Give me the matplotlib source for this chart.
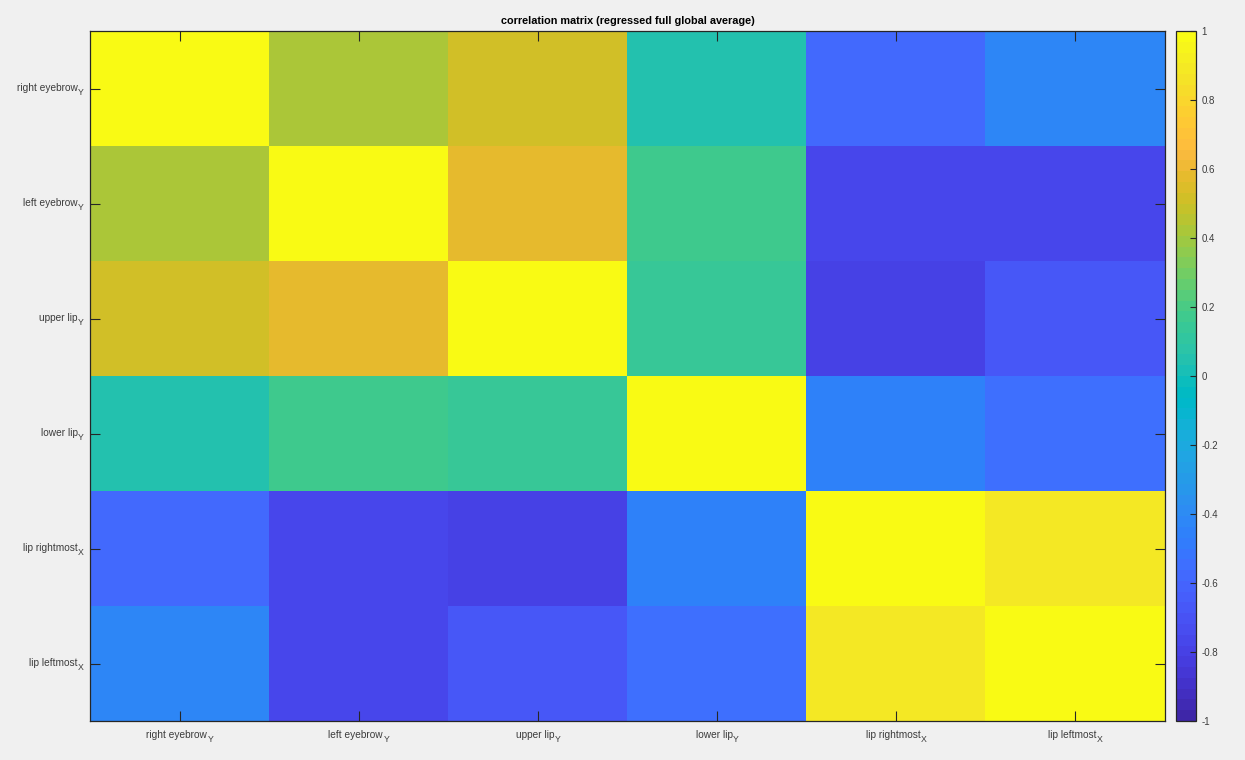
#!/usr/bin/env python3
import numpy as np
import matplotlib
matplotlib.use("Agg")
import matplotlib.pyplot as plt
from matplotlib.colors import ListedColormap


LABELS = ["right eyebrow", "left eyebrow", "upper lip", "lower lip",
          "lip rightmost", "lip leftmost"]
SUBSCRIPTS = ["Y", "Y", "Y", "Y", "X", "X"]

# correlation values
ROW_RIGHT_EYEBROW = [1.00, 0.42, 0.50, 0.05, -0.57, -0.43]
ROW_LEFT_EYEBROW = [0.42, 1.00, 0.57, 0.16, -0.78, -0.78]
ROW_UPPER_LIP = [0.50, 0.57, 1.00, 0.13, -0.80, -0.68]
ROW_LOWER_LIP = [0.05, 0.16, 0.13, 1.00, -0.45, -0.56]
ROW_LIP_RIGHTMOST = [-0.57, -0.78, -0.80, -0.45, 1.00, 0.90]
ROW_LIP_LEFTMOST = [-0.43, -0.78, -0.68, -0.56, 0.90, 1.00]

CBAR_TICKS = [-1, -0.8, -0.6, -0.4, -0.2, 0, 0.2, 0.4, 0.6, 0.8, 1]

# MATLAB parula(64)
PARULA = [
    [0.2422, 0.1504, 0.6603], [0.2504, 0.1650, 0.7076], [0.2578, 0.1818, 0.7511],
    [0.2647, 0.1978, 0.7952], [0.2706, 0.2147, 0.8364], [0.2751, 0.2342, 0.8710],
    [0.2783, 0.2559, 0.8991], [0.2803, 0.2782, 0.9221], [0.2813, 0.3006, 0.9414],
    [0.2810, 0.3228, 0.9579], [0.2795, 0.3447, 0.9717], [0.2760, 0.3667, 0.9829],
    [0.2699, 0.3892, 0.9906], [0.2602, 0.4123, 0.9952], [0.2440, 0.4358, 0.9988],
    [0.2206, 0.4603, 0.9973], [0.1963, 0.4847, 0.9892], [0.1834, 0.5074, 0.9798],
    [0.1786, 0.5289, 0.9682], [0.1764, 0.5499, 0.9520], [0.1687, 0.5703, 0.9359],
    [0.1540, 0.5902, 0.9218], [0.1460, 0.6091, 0.9079], [0.1380, 0.6276, 0.8973],
    [0.1248, 0.6459, 0.8883], [0.1113, 0.6635, 0.8763], [0.0952, 0.6798, 0.8598],
    [0.0689, 0.6948, 0.8394], [0.0297, 0.7082, 0.8163], [0.0036, 0.7203, 0.7917],
    [0.0067, 0.7312, 0.7660], [0.0433, 0.7411, 0.7394], [0.0964, 0.7500, 0.7120],
    [0.1408, 0.7584, 0.6842], [0.1717, 0.7670, 0.6554], [0.1938, 0.7758, 0.6251],
    [0.2161, 0.7843, 0.5923], [0.2470, 0.7918, 0.5567], [0.2906, 0.7973, 0.5188],
    [0.3406, 0.8008, 0.4789], [0.3909, 0.8029, 0.4354], [0.4456, 0.8024, 0.3909],
    [0.5044, 0.7993, 0.3480], [0.5616, 0.7942, 0.3045], [0.6174, 0.7876, 0.2612],
    [0.6720, 0.7793, 0.2227], [0.7242, 0.7698, 0.1910], [0.7738, 0.7598, 0.1646],
    [0.8203, 0.7498, 0.1535], [0.8634, 0.7406, 0.1596], [0.9035, 0.7330, 0.1774],
    [0.9393, 0.7288, 0.2100], [0.9728, 0.7298, 0.2394], [0.9956, 0.7434, 0.2371],
    [0.9970, 0.7659, 0.2199], [0.9952, 0.7893, 0.2028], [0.9892, 0.8136, 0.1885],
    [0.9786, 0.8386, 0.1766], [0.9676, 0.8639, 0.1643], [0.9610, 0.8890, 0.1537],
    [0.9597, 0.9135, 0.1423], [0.9628, 0.9373, 0.1265], [0.9691, 0.9606, 0.1064],
    [0.9769, 0.9839, 0.0805],
]

BG = "#f0f0f0"
INK = "#262626"
TEXT = "#3c3c3c"
LABEL_SIZE = 7.3
SUB_SIZE = 6.3

plt.rcParams["font.family"] = ["Liberation Sans", "DejaVu Sans"]
plt.rcParams["axes.unicode_minus"] = False


def text_width(fig, renderer, s, size):
    t = fig.text(0, 0, s, fontsize=size)
    w = t.get_window_extent(renderer).width
    t.remove()
    return w


def add_sub_labels(fig, ax):
    renderer = fig.canvas.get_renderer()
    ytrans = ax.get_yaxis_transform()
    xtrans = ax.get_xaxis_transform()
    for i, (base, sub) in enumerate(zip(LABELS, SUBSCRIPTS)):
        bw = text_width(fig, renderer, base, LABEL_SIZE)
        sw = text_width(fig, renderer, sub, SUB_SIZE)

        # y axis: right aligned, subscript last
        ax.annotate(sub, xy=(0, i), xycoords=ytrans, xytext=(-6, -6.4),
                    textcoords="offset pixels", ha="right", va="baseline",
                    fontsize=SUB_SIZE, color=TEXT, annotation_clip=False)
        ax.annotate(base, xy=(0, i), xycoords=ytrans,
                    xytext=(-6 - sw - 0.5, -2.3), textcoords="offset pixels",
                    ha="right", va="baseline", fontsize=LABEL_SIZE,
                    color=TEXT, annotation_clip=False)

        # x axis: whole label centred under the tick
        left = -(bw + sw) / 2
        ax.annotate(base, xy=(i, 0), xycoords=xtrans, xytext=(left, -17),
                    textcoords="offset pixels", ha="left", va="baseline",
                    fontsize=LABEL_SIZE, color=TEXT, annotation_clip=False)
        ax.annotate(sub, xy=(i, 0), xycoords=xtrans,
                    xytext=(left + bw + 0.5, -21.5),
                    textcoords="offset pixels", ha="left", va="baseline",
                    fontsize=SUB_SIZE, color=TEXT, annotation_clip=False)


def main():
    data = np.array([
        ROW_RIGHT_EYEBROW,
        ROW_LEFT_EYEBROW,
        ROW_UPPER_LIP,
        ROW_LOWER_LIP,
        ROW_LIP_RIGHTMOST,
        ROW_LIP_LEFTMOST,
    ])
    cmap = ListedColormap(PARULA, name="parula")

    fig = plt.figure(figsize=(12.45, 7.6), dpi=100, facecolor=BG)
    ax = fig.add_axes([90 / 1245, 39 / 760, 1075 / 1245, 690 / 760])
    cax = fig.add_axes([1176 / 1245, 39 / 760, 20 / 1245, 690 / 760])

    im = ax.imshow(data, cmap=cmap, vmin=-1, vmax=1, aspect="auto",
                   interpolation="nearest")
    n = len(LABELS)
    ax.set_xticks(range(n))
    ax.set_yticks(range(n))
    ax.set_xticklabels([])
    ax.set_yticklabels([])
    ax.tick_params(direction="in", length=7, width=0.8, color=INK,
                   top=True, right=True)
    for spine in ax.spines.values():
        spine.set_color(INK)
        spine.set_linewidth(0.9)
    ax.set_title("correlation matrix (regressed full global average)",
                 fontsize=7.8, fontweight="bold", color="#000000", pad=5)

    cb = fig.colorbar(im, cax=cax, ticks=CBAR_TICKS)
    cb.ax.set_yticklabels([f"{t:g}" for t in CBAR_TICKS])
    cb.ax.tick_params(direction="in", length=4, width=0.8, color=INK,
                      labelsize=7, labelcolor=TEXT, pad=4)
    cb.outline.set_edgecolor(INK)
    cb.outline.set_linewidth(0.9)

    add_sub_labels(fig, ax)

    fig.savefig("out.png", dpi=100, facecolor=BG)


if __name__ == "__main__":
    main()
